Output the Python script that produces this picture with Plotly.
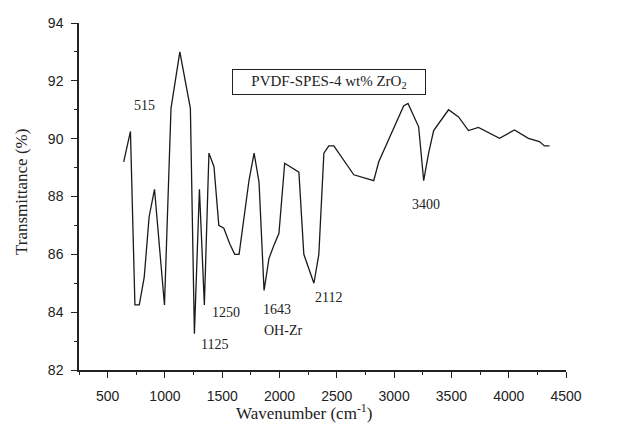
import plotly.graph_objects as go

wavenumber = [640, 699, 738, 776, 819, 862, 909, 996, 1053, 1130, 1222, 1257, 1301, 1344,
              1384, 1428, 1470, 1514, 1567, 1609, 1647, 1734, 1778, 1821, 1865, 1908, 1952,
              1995, 2045, 2169, 2212, 2300, 2343, 2387, 2430, 2474, 2648, 2822, 2866, 3040,
              3083, 3121, 3214, 3258, 3301, 3345, 3475, 3562, 3649, 3736, 3920, 4050, 4172,
              4268, 4312, 4356]
transmittance = [89.2, 90.25, 84.25, 84.25, 85.2, 87.3, 88.25, 84.25, 91.05, 93.0, 91.05, 83.25,
                 88.25, 84.25, 89.5, 89.03, 87.0, 86.9, 86.35, 86.0, 86.0, 88.57, 89.5, 88.5,
                 84.75, 85.86, 86.32, 86.73, 89.15, 88.84, 86.0, 85.0, 86.0, 89.5, 89.75, 89.75,
                 88.75, 88.55, 89.2, 90.78, 91.13, 91.22, 90.41, 88.55, 89.5, 90.28, 91.0, 90.75,
                 90.28, 90.39, 90.01, 90.3, 90.01, 89.9, 89.75, 89.75]

peak_labels = ["515", "1125", "1250", "1643", "OH-Zr", "2112", "3400"]
peak_label_x = [825, 1435, 1530, 1981, 2028, 2423, 3281]
peak_label_y = [91.13, 82.87, 83.98, 84.1, 83.38, 84.51, 87.74]

x_ticks = [500, 1000, 1500, 2000, 2500, 3000, 3500, 4000, 4500]
y_ticks = [82, 84, 86, 88, 90, 92, 94]

serif = "Liberation Serif, Times New Roman, serif"
sans = "Liberation Sans, Arial, sans-serif"

fig = go.Figure()
fig.add_trace(go.Scatter(x=wavenumber, y=transmittance, mode="lines",
                         line=dict(color="#1a1a1a", width=1.3), showlegend=False))

annotations = []
for t, x, y in zip(peak_labels, peak_label_x, peak_label_y):
    annotations.append(dict(x=x, y=y, xref="x", yref="y", text=t, showarrow=False,
                            xanchor="center", yanchor="middle",
                            font=dict(family=serif, size=14, color="#222")))

annotations.append(dict(x=2428, y=91.96, xref="x", yref="y",
                        text="PVDF-SPES-4 wt% ZrO<sub>2</sub>", showarrow=False,
                        xanchor="center", yanchor="middle",
                        font=dict(family=serif, size=15, color="#222"),
                        bordercolor="#222", borderwidth=1, borderpad=2,
                        width=188, height=20, bgcolor="white"))

annotations.append(dict(x=-0.117, y=0.513, xref="paper", yref="paper",
                        xanchor="center", yanchor="middle",
                        text="Transmittance (%)", textangle=-90, showarrow=False,
                        font=dict(family=serif, size=17, color="#222")))
annotations.append(dict(x=0.462, y=-0.121, xref="paper", yref="paper",
                        xanchor="center", yanchor="middle",
                        text="Wavenumber (cm<sup>-1</sup>)", showarrow=False,
                        font=dict(family=serif, size=17, color="#222")))

fig.update_layout(
    width=629, height=429,
    margin=dict(l=79, r=63, t=23, b=59),
    paper_bgcolor="white", plot_bgcolor="white",
    annotations=annotations,
    xaxis=dict(range=[250, 4500], tickvals=x_ticks, ticktext=[str(v) for v in x_ticks],
               showgrid=False, zeroline=False, showline=True, linecolor="#222", linewidth=1.5,
               ticks="outside", ticklen=6, tickwidth=1.3, tickcolor="#222",
               ticklabelstandoff=6,
               tickfont=dict(family=sans, size=14, color="#222"),
               minor=dict(dtick=250, tick0=250, ticks="outside", ticklen=3, tickwidth=1.2,
                          tickcolor="#222", showgrid=False)),
    yaxis=dict(range=[82, 94], tickvals=y_ticks, ticktext=[str(v) for v in y_ticks],
               showgrid=False, zeroline=False, showline=True, linecolor="#222", linewidth=1.5,
               ticks="outside", ticklen=6, tickwidth=1.3, tickcolor="#222",
               ticklabelstandoff=5,
               tickfont=dict(family=sans, size=14, color="#222"),
               minor=dict(dtick=1, tick0=82, ticks="outside", ticklen=3, tickwidth=1.2,
                          tickcolor="#222", showgrid=False)),
)

fig.write_html("out.html")
